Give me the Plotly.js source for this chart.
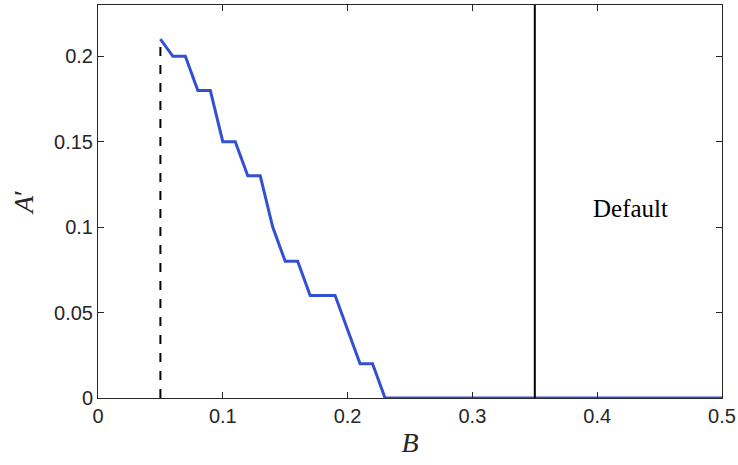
<!DOCTYPE html>
<html>
<head>
<meta charset="utf-8">
<script src="https://cdn.plot.ly/plotly-3.0.1.min.js"></script>
<style>html,body{margin:0;padding:0;background:#fff}#chart{width:738px;height:465px}</style>
</head>
<body>
<div id="chart"></div>
<script>
/* A' against B, with the default threshold */
const bValues = [0.05, 0.06, 0.07, 0.08, 0.09, 0.10, 0.11, 0.12, 0.13, 0.14, 0.15, 0.16, 0.17, 0.18, 0.19, 0.20, 0.21, 0.22, 0.23, 0.5];
const aValues = [0.21, 0.20, 0.20, 0.18, 0.18, 0.15, 0.15, 0.13, 0.13, 0.10, 0.08, 0.08, 0.06, 0.06, 0.06, 0.04, 0.02, 0.02, 0, 0];
const boundaryB = 0.05;
const defaultB = 0.35;
const xTicks = [0, 0.1, 0.2, 0.3, 0.4, 0.5];
const yTicks = [0, 0.05, 0.1, 0.15, 0.2];

const AXIS = {
  showgrid: false, zeroline: false, showline: true, mirror: 'ticks',
  linecolor: '#262626', linewidth: 1, ticks: 'inside', ticklen: 6, tickcolor: '#262626',
  tickfont: { family: 'Liberation Sans, Arial, sans-serif', size: 20, color: '#262626' },
};

const traces = [
  { x: bValues, y: aValues, mode: 'lines', line: { color: '#3450d2', width: 3 }, hoverinfo: 'skip' },
  { x: [boundaryB, boundaryB], y: [0, aValues[0]], mode: 'lines', line: { color: '#000', width: 2, dash: 'dash' } },
  { x: [defaultB, defaultB], y: [0, 0.23], mode: 'lines', line: { color: '#000', width: 2 } },
];

const layout = {
  width: 738, height: 465,
  margin: { l: 98, r: 16, t: 5, b: 67 },
  paper_bgcolor: '#fff', plot_bgcolor: '#fff',
  showlegend: false,
  xaxis: { ...AXIS, range: [0, 0.5], tickvals: xTicks, ticktext: ['0', '0.1', '0.2', '0.3', '0.4', '0.5'],
    title: { text: '<i>B</i>', font: { family: 'Liberation Serif, Times New Roman, serif', size: 28, color: '#262626' }, standoff: 6 } },
  yaxis: { ...AXIS, range: [0, 0.23], tickvals: yTicks, ticktext: ['0', '0.05', '0.1', '0.15', '0.2'],
    title: { text: "<i>A</i>′", font: { family: 'Liberation Serif, Times New Roman, serif', size: 28, color: '#262626' }, standoff: 12 } },
  annotations: [
    { x: 0.427, y: 0.111, xref: 'x', yref: 'y', text: 'Default', showarrow: false,
      font: { family: 'Liberation Serif, Times New Roman, serif', size: 25, color: '#000' } },
  ],
};

Plotly.newPlot('chart', traces, layout, { displayModeBar: false, staticPlot: true });
</script>
</body>
</html>
